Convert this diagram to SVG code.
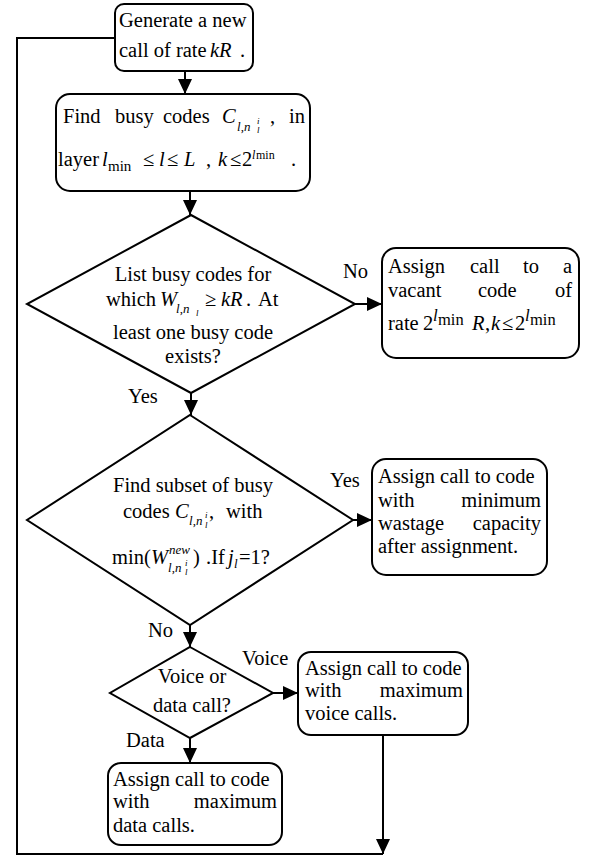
<svg xmlns="http://www.w3.org/2000/svg" width="597" height="856" viewBox="0 0 597 856">
  <style>
    .box { fill: #fff; stroke: #000; stroke-width: 2; }
    .edge { fill: none; stroke: #000; stroke-width: 2; }
    text { font-family: "Liberation Serif", "Times New Roman", serif; font-size: 20.5px; fill: #000; }
    .it { font-style: italic; }
    .sub { font-size: 13px; }
    .tiny { font-size: 9px; font-style: italic; }
    .mid { text-anchor: middle; }
    .end { text-anchor: end; }
  </style>
  <defs>
    <marker id="arrow" markerUnits="userSpaceOnUse" markerWidth="15" markerHeight="14" refX="15" refY="7" orient="auto">
      <path d="M0,0 L15,7 L0,14 z" fill="#000"/>
    </marker>
  </defs>

  <!-- connectors -->
  <g id="connectors">
    <line class="edge" x1="185" y1="71" x2="185" y2="94" marker-end="url(#arrow)"/>
    <line class="edge" x1="190" y1="191" x2="190" y2="215" marker-end="url(#arrow)"/>
    <line class="edge" x1="355" y1="304" x2="382" y2="304" marker-end="url(#arrow)"/>
    <line class="edge" x1="191" y1="393" x2="191" y2="415" marker-end="url(#arrow)"/>
    <line class="edge" x1="352" y1="520" x2="372" y2="520" marker-end="url(#arrow)"/>
    <line class="edge" x1="190" y1="625" x2="190" y2="647" marker-end="url(#arrow)"/>
    <line class="edge" x1="273" y1="693" x2="298" y2="693" marker-end="url(#arrow)"/>
    <line class="edge" x1="190" y1="738" x2="190" y2="763" marker-end="url(#arrow)"/>
    <line class="edge" x1="383" y1="735" x2="383" y2="854" marker-end="url(#arrow)"/>
    <polyline class="edge" points="383,854 17,854 17,38 115,38"/>
    <!-- branch labels -->
    <text x="343" y="278">No</text>
    <text x="128" y="403">Yes</text>
    <text x="330" y="487">Yes</text>
    <text x="148" y="637">No</text>
    <text x="242" y="665">Voice</text>
    <text x="126" y="747">Data</text>
  </g>

  <!-- start: new call -->
  <g id="new-call">
    <rect class="box" x="115" y="4" width="138" height="67" rx="9"/>
    <text x="119" y="27">Generate a new</text>
    <text y="57"><tspan x="119">call of rate</tspan><tspan class="it" x="210">kR</tspan><tspan x="240">.</tspan></text>
  </g>

  <!-- find busy codes -->
  <g id="find-busy">
    <rect class="box" x="56" y="94" width="254" height="97" rx="14"/>
    <text y="123"><tspan x="63">Find</tspan><tspan x="115">busy</tspan><tspan x="163">codes</tspan><tspan class="it" x="222">C</tspan><tspan x="270">,</tspan></text>
    <text class="sub it" x="237" y="131">l<tspan font-style="normal">,</tspan>n</text>
    <text class="tiny" x="257" y="124">i</text>
    <text class="tiny" x="257" y="133">l</text>
    <text class="end" x="305" y="123">in</text>
    <text y="166"><tspan x="58">layer</tspan><tspan class="it" x="102">l</tspan><tspan x="143">≤</tspan><tspan class="it" x="159">l</tspan><tspan x="167">≤</tspan><tspan class="it" x="184">L</tspan><tspan x="206">,</tspan><tspan class="it" x="218">k</tspan><tspan x="230">≤</tspan><tspan x="242">2</tspan><tspan x="291">.</tspan></text>
    <text x="108" y="171" style="font-size:15px">min</text>
    <text class="it" x="252" y="159" style="font-size:12px">l</text>
    <text x="256" y="159" style="font-size:12px">min</text>
  </g>

  <!-- decision: busy code with enough capacity -->
  <g id="decision-busy">
    <polygon class="box" points="191,215 355,304 191,393 27,304"/>
    <text class="mid" x="193" y="281">List busy codes for</text>
    <text y="306"><tspan x="106">which</tspan><tspan class="it" x="160">W</tspan><tspan x="205">≥</tspan><tspan class="it" x="221">kR</tspan><tspan x="246">.</tspan><tspan x="258">At</tspan></text>
    <text class="sub it" x="176" y="313">l<tspan font-style="normal">,</tspan>n</text>
    <text class="tiny" x="196" y="316">l</text>
    <text class="mid" x="193" y="339">least one busy code</text>
    <text class="mid" x="193" y="363">exists?</text>
  </g>

  <!-- assign vacant code -->
  <g id="assign-vacant">
    <rect class="box" x="382" y="248" width="197" height="110" rx="14"/>
    <text y="273"><tspan x="388">Assign</tspan><tspan x="470">call</tspan><tspan x="523">to</tspan></text>
    <text class="end" x="572" y="273">a</text>
    <text y="297"><tspan x="388">vacant</tspan><tspan x="478">code</tspan></text>
    <text class="end" x="572" y="297">of</text>
    <text y="330"><tspan x="388">rate</tspan><tspan x="423">2</tspan><tspan class="it" x="472">R</tspan><tspan x="485">,</tspan><tspan class="it" x="491">k</tspan><tspan x="502">≤</tspan><tspan x="515">2</tspan></text>
    <text class="it" x="433" y="321" style="font-size:17px">l</text>
    <text x="438" y="325" style="font-size:16.5px">min</text>
    <text class="it" x="525" y="321" style="font-size:17px">l</text>
    <text x="530" y="325" style="font-size:16.5px">min</text>
  </g>

  <!-- decision: minimum wastage subset -->
  <g id="decision-subset">
    <polygon class="box" points="190,415 353,520 190,625 27,520"/>
    <text class="mid" x="193" y="492">Find subset of busy</text>
    <text y="518"><tspan x="123">codes</tspan><tspan class="it" x="175">C</tspan><tspan x="209">,</tspan><tspan x="226">with</tspan></text>
    <text class="sub it" x="189" y="525">l<tspan font-style="normal">,</tspan>n</text>
    <text class="tiny" x="205" y="518">i</text>
    <text class="tiny" x="205" y="528">l</text>
    <text y="564"><tspan x="112">min(</tspan><tspan class="it" x="151">W</tspan><tspan x="193">)</tspan><tspan x="206">.If</tspan><tspan class="it" x="228">j</tspan><tspan x="239">=1?</tspan></text>
    <text class="sub it" x="169" y="554">new</text>
    <text class="sub it" x="168" y="572">l<tspan font-style="normal">,</tspan>n</text>
    <text class="tiny" x="185" y="566">i</text>
    <text class="tiny" x="185" y="575">l</text>
    <text class="sub it" x="234" y="568">l</text>
  </g>

  <!-- assign minimum wastage -->
  <g id="assign-min-wastage">
    <rect class="box" x="372" y="459" width="175" height="116" rx="14"/>
    <text x="378" y="483">Assign call to code</text>
    <text x="378" y="507">with</text>
    <text class="end" x="541" y="507">minimum</text>
    <text x="378" y="530">wastage</text>
    <text class="end" x="541" y="530">capacity</text>
    <text x="378" y="553">after assignment.</text>
  </g>

  <!-- decision: voice or data -->
  <g id="decision-type">
    <polygon class="box" points="190,647 273,693 190,738 110,693"/>
    <text class="mid" x="192" y="683">Voice or</text>
    <text class="mid" x="192" y="712">data call?</text>
  </g>

  <!-- assign voice -->
  <g id="assign-voice">
    <rect class="box" x="298" y="652" width="170" height="83" rx="13"/>
    <text x="305" y="675">Assign call to code</text>
    <text x="305" y="697">with</text>
    <text class="end" x="463" y="697">maximum</text>
    <text x="305" y="720">voice calls.</text>
  </g>

  <!-- assign data -->
  <g id="assign-data">
    <rect class="box" x="108" y="763" width="174" height="82" rx="13"/>
    <text x="113" y="786">Assign call to code</text>
    <text x="113" y="808">with</text>
    <text class="end" x="277" y="808">maximum</text>
    <text x="113" y="832">data calls.</text>
  </g>
</svg>
